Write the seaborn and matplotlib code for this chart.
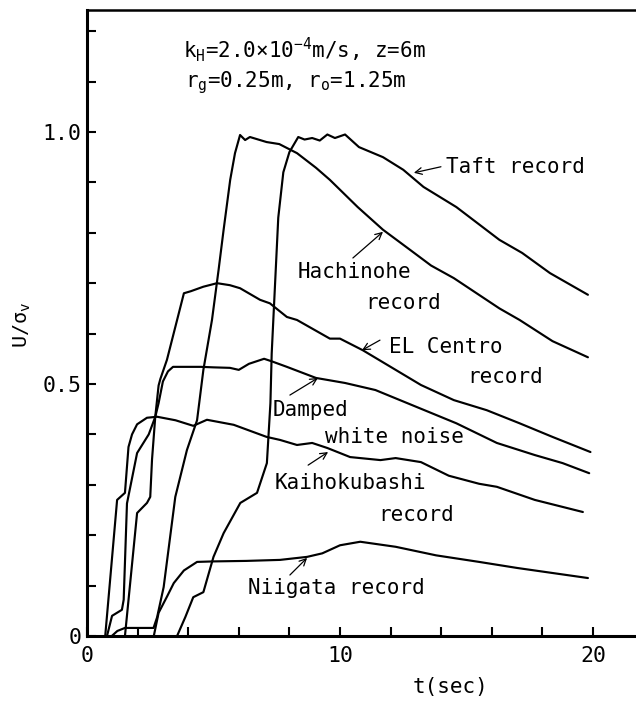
import numpy as np
import pandas as pd
import matplotlib
matplotlib.use("Agg")
import matplotlib.pyplot as plt
import seaborn as sns
from matplotlib.ticker import FixedLocator, FixedFormatter

# Normalised response U/sigma_v versus time for each input motion
taft_t = [3.56, 3.89, 4.2, 4.6, 5.0, 5.4, 6.06, 6.72, 7.11, 7.25, 7.3, 7.56, 7.76, 8.0,
          8.35, 8.6, 8.9, 9.2, 9.5, 9.8, 10.2, 10.75, 11.7, 12.5, 13.3, 14.6, 16.3, 17.2,
          18.3, 19.8]
taft_u = [0.0, 0.038, 0.077, 0.087, 0.157, 0.204, 0.264, 0.284, 0.343, 0.462, 0.56, 0.83,
          0.92, 0.96, 0.99, 0.985, 0.988, 0.983, 0.995, 0.988, 0.995, 0.97, 0.95, 0.925,
          0.891, 0.851, 0.786, 0.76, 0.72, 0.677]

hachinohe_t = [0.98, 1.2, 1.5, 2.63, 2.77, 3.03, 3.49, 3.95, 4.35, 4.6, 4.94, 5.2, 5.4,
               5.66, 5.85, 6.05, 6.25, 6.44, 7.1, 7.6, 8.3, 9.05, 9.6, 10.7, 11.7, 12.8,
               13.6, 14.5, 16.3, 17.1, 18.4, 19.8]
hachinohe_u = [0.0, 0.01, 0.016, 0.016, 0.037, 0.097, 0.276, 0.369, 0.428, 0.528, 0.627,
               0.726, 0.806, 0.905, 0.958, 0.994, 0.984, 0.99, 0.98, 0.976, 0.958, 0.929,
               0.905, 0.851, 0.806, 0.765, 0.735, 0.71, 0.65, 0.627, 0.585, 0.553]

elcentro_t = [1.5, 1.98, 2.37, 2.5, 2.57, 2.7, 2.83, 2.9, 3.16, 3.49, 3.83, 4.1, 4.6, 5.14,
              5.65, 6.05, 6.84, 7.23, 7.9, 8.3, 9.6, 10.0, 10.9, 12.0, 13.2, 14.5, 15.8,
              17.1, 18.4, 19.9]
elcentro_u = [0.0, 0.244, 0.264, 0.276, 0.35, 0.436, 0.497, 0.51, 0.548, 0.613, 0.68, 0.684,
              0.693, 0.70, 0.696, 0.69, 0.667, 0.66, 0.633, 0.627, 0.59, 0.59, 0.567, 0.534,
              0.498, 0.468, 0.448, 0.422, 0.395, 0.365]

damped_t = [0.79, 0.99, 1.38, 1.45, 1.58, 1.98, 2.44, 2.7, 2.83, 3.0, 3.2, 3.4, 4.5, 5.0,
            5.65, 6.0, 6.4, 7.0, 7.3, 7.9, 9.05, 10.2, 11.4, 13.0, 14.6, 16.2, 17.7, 18.8,
            19.85]
damped_u = [0.0, 0.04, 0.052, 0.072, 0.263, 0.363, 0.40, 0.435, 0.462, 0.505, 0.525, 0.534,
            0.534, 0.533, 0.532, 0.528, 0.54, 0.55, 0.545, 0.534, 0.512, 0.502, 0.488, 0.455,
            0.422, 0.383, 0.359, 0.343, 0.323]

kaiho_t = [0.72, 1.19, 1.5, 1.64, 1.78, 1.98, 2.37, 2.77, 3.5, 4.2, 4.74, 5.8, 7.1, 7.63,
           8.3, 8.9, 9.5, 10.4, 11.6, 12.2, 13.2, 14.3, 15.5, 16.2, 17.7, 19.6]
kaiho_u = [0.0, 0.27, 0.284, 0.375, 0.40, 0.42, 0.433, 0.435, 0.428, 0.417, 0.429, 0.419,
           0.395, 0.389, 0.379, 0.383, 0.373, 0.355, 0.349, 0.353, 0.345, 0.318, 0.302,
           0.296, 0.27, 0.246]

niigata_t = [2.64, 2.83, 3.16, 3.43, 3.83, 4.35, 5.0, 6.3, 7.63, 8.7, 9.3, 10.0, 10.8, 12.2,
             13.8, 15.5, 17.0, 19.8]
niigata_u = [0.0, 0.046, 0.078, 0.105, 0.13, 0.147, 0.148, 0.149, 0.151, 0.157, 0.164, 0.18,
             0.187, 0.177, 0.16, 0.147, 0.135, 0.115]

x_ticks = [0, 2, 4, 6, 8, 10, 12, 14, 16, 18, 20]
x_tick_labels = ["0", "", "", "", "", "10", "", "", "", "", "20"]
y_ticks = [0.0, 0.1, 0.2, 0.3, 0.4, 0.5, 0.6, 0.7, 0.8, 0.9, 1.0, 1.1, 1.2]
y_tick_labels = ["0", "", "", "", "", "0.5", "", "", "", "", "1.0", "", ""]

series = {
    "Taft": (taft_t, taft_u),
    "Hachinohe": (hachinohe_t, hachinohe_u),
    "EL Centro": (elcentro_t, elcentro_u),
    "Damped white noise": (damped_t, damped_u),
    "Kaihokubashi": (kaiho_t, kaiho_u),
    "Niigata": (niigata_t, niigata_u),
}
df = pd.concat(
    [pd.DataFrame({"t": t, "u": u, "record": name}) for name, (t, u) in series.items()],
    ignore_index=True,
)

sns.set_theme(style="white")
plt.rcParams["font.family"] = ["DejaVu Sans Mono"]
plt.rcParams["mathtext.fontset"] = "custom"
plt.rcParams["mathtext.rm"] = "DejaVu Sans Mono"
plt.rcParams["mathtext.it"] = "DejaVu Sans Mono"
plt.rcParams["mathtext.default"] = "rm"
for key in ["text.color", "axes.labelcolor", "xtick.color", "ytick.color",
            "axes.edgecolor"]:
    plt.rcParams[key] = "black"

FS = 15

fig = plt.figure(figsize=(6.36, 7.04), dpi=100)
ax = fig.add_axes([87 / 636, 68 / 704, 549 / 636, 626 / 704])

sns.lineplot(data=df, x="t", y="u", units="record", estimator=None, sort=False,
             color="black", lw=1.55, legend=False, ax=ax)

ax.set_xlim(0, 21.7)
ax.set_ylim(0, 1.242)
ax.set_xlabel("")
ax.set_ylabel("")

ax.xaxis.set_major_locator(FixedLocator(x_ticks))
ax.xaxis.set_major_formatter(FixedFormatter(x_tick_labels))
ax.yaxis.set_major_locator(FixedLocator(y_ticks))
ax.yaxis.set_major_formatter(FixedFormatter(y_tick_labels))
ax.tick_params(axis="both", direction="in", length=6.5, width=1.5, colors="black",
               labelsize=FS + 0.5, left=True, bottom=True)
ax.tick_params(axis="x", pad=7)
ax.tick_params(axis="y", pad=4)

ax.spines["left"].set_linewidth(2.2)
ax.spines["bottom"].set_linewidth(2.2)
ax.spines["top"].set_linewidth(1.8)
ax.spines["right"].set_visible(False)

# Parameter block
ax.text(3.79, 1.147, r"k$_{\mathrm{H}}$=2.0×10$^{-4}$m/s, z=6m", fontsize=FS,
        ha="left", va="baseline")
ax.text(3.87, 1.089, r"r$_{\mathrm{g}}$=0.25m, r$_{\mathrm{o}}$=1.25m", fontsize=FS,
        ha="left", va="baseline")

arrow = dict(arrowstyle="->", lw=0.9, color="black", shrinkA=0, shrinkB=0,
             mutation_scale=12)

# Curve annotations
ax.annotate("", xy=(12.92, 0.919), xytext=(13.99, 0.931), arrowprops=arrow)
ax.text(14.19, 0.931, "Taft record", fontsize=FS, ha="left", va="center")

ax.annotate("", xy=(11.70, 0.802), xytext=(10.51, 0.75), arrowprops=arrow)
ax.text(8.34, 0.722, "Hachinohe", fontsize=FS, ha="left", va="center")
ax.text(10.99, 0.661, "record", fontsize=FS, ha="left", va="center")

ax.annotate("", xy=(10.87, 0.567), xytext=(11.58, 0.587), arrowprops=arrow)
ax.text(11.94, 0.573, "EL Centro", fontsize=FS, ha="left", va="center")
ax.text(15.02, 0.514, "record", fontsize=FS, ha="left", va="center")

ax.annotate("", xy=(9.13, 0.512), xytext=(8.02, 0.478), arrowprops=arrow)
ax.text(7.35, 0.448, "Damped", fontsize=FS, ha="left", va="center")
ax.text(9.41, 0.395, "white noise", fontsize=FS, ha="left", va="center")

ax.annotate("", xy=(9.53, 0.365), xytext=(8.74, 0.339), arrowprops=arrow)
ax.text(7.43, 0.304, "Kaihokubashi", fontsize=FS, ha="left", va="center")
ax.text(11.5, 0.24, "record", fontsize=FS, ha="left", va="center")

ax.annotate("", xy=(8.70, 0.155), xytext=(8.02, 0.121), arrowprops=arrow)
ax.text(6.36, 0.095, "Niigata record", fontsize=FS, ha="left", va="center")

# Axis titles
fig.text(22 / 636, 1 - 325 / 704, r"U/σ$_{\mathrm{v}}$", fontsize=FS - 0.5, rotation=90,
         ha="center", va="center")
fig.text(451 / 636, 1 - 687 / 704, "t(sec)", fontsize=FS, ha="center", va="center")

fig.savefig("out.png", dpi=100, facecolor="white")
